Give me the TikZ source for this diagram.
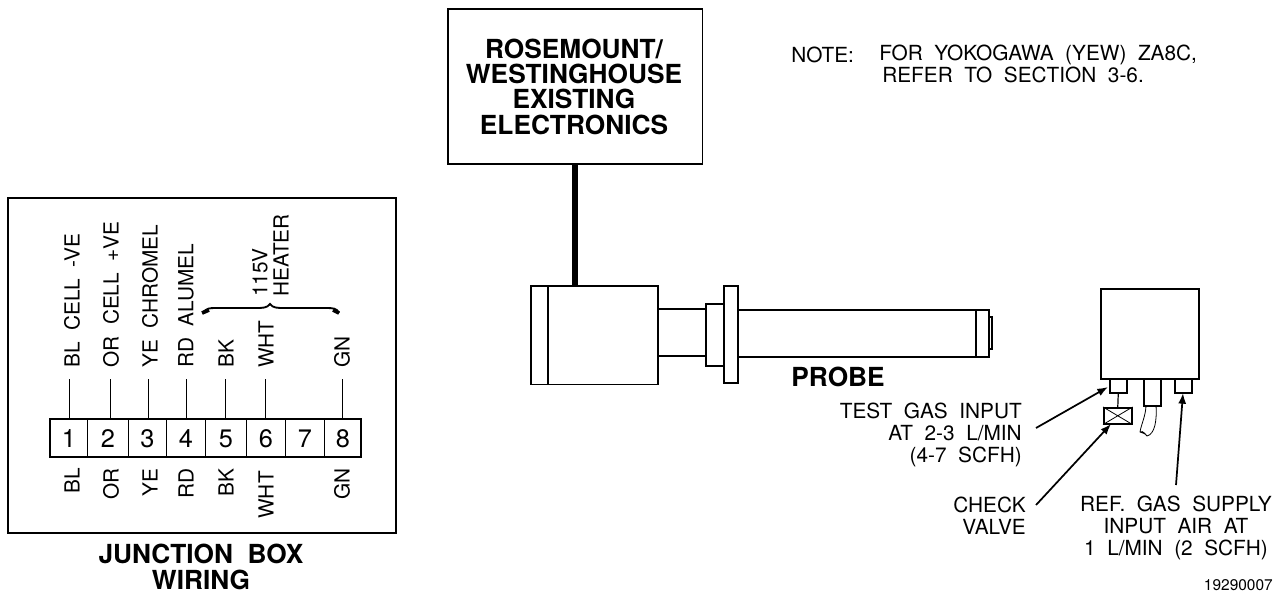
\documentclass[tikz,border=0pt]{standalone}
\usepackage{fontspec}
\setmainfont{TeX Gyre Heros}
\usetikzlibrary{arrows.meta}
\tikzset{
  label/.style={inner sep=0pt,font=\fontsize{15.6}{16.25}\selectfont},
  vlabel/.style={label,rotate=90},
  notelabel/.style={label,anchor=west},
  heading/.style={inner sep=0pt,align=center,font=\fontsize{19.7}{19}\selectfont\bfseries},
  part/.style={draw,line width=1.15pt,inner sep=0pt,anchor=north west},
  lead/.style={line width=0.6pt},
  pointer/.style={line width=1.3pt,-{Latex[length=8pt,width=6pt]}},
}
\begin{document}
\begin{tikzpicture}[x=0.75pt,y=-0.75pt]
\useasboundingbox (0,0) rectangle (1284,594);

% junction box
\draw[line width=1.15pt] (8,198) rectangle (396,533);
\foreach \n/\a/\b/\t in {1/50/87/69,2/87/128/110,3/128/166/148,4/166/205/186,5/205/246/225,6/246/285/265,7/285/324/305,8/324/361/342}{
  \node[draw,line width=0.7pt,inner sep=0pt,anchor=north west,minimum height=28.5pt,minimum width={(\b-\a)*0.75pt},font=\fontsize{19}{19}\selectfont] (t\n) at (\a,419) {\n};
  \coordinate (w\n) at (\t,379);
  \coordinate (p\n) at (\t,419);
}
\draw[line width=1.3pt] (50,419) rectangle (361,457);
\foreach \n in {1,2,3,4,5,6,8}
  \draw[lead] (w\n) -- (p\n);

\node[vlabel,anchor=west] at (72,368) {BL~~CELL~~-VE};
\node[vlabel,anchor=west] at (111,368) {OR~~CELL~~+VE};
\node[vlabel,anchor=west] at (150,368) {YE~~CHROMEL};
\node[vlabel,anchor=west] at (186,368) {RD~~ALUMEL};
\node[vlabel,anchor=west] at (226,368) {BK};
\node[vlabel,anchor=west] at (266,368) {WHT};
\node[vlabel,anchor=west] at (342,368) {GN};

\node[vlabel,anchor=east] at (72,468) {BL};
\node[vlabel,anchor=east] at (111,468) {OR};
\node[vlabel,anchor=east] at (150,468) {YE};
\node[vlabel,anchor=east] at (186,468) {RD};
\node[vlabel,anchor=east] at (226,468) {BK};
\node[vlabel,anchor=east] at (266,471) {WHT};
\node[vlabel,anchor=east] at (342,468) {GN};

\node[vlabel,anchor=west] at (260,297) {115V};
\node[vlabel,anchor=west] at (281,297) {HEATER};
\draw[line width=1.4pt] (203,313) .. controls (206,308) and (210,308) .. (216,308) -- (255,308) .. controls (263,308) and (267,308) .. (270,304) .. controls (273,308) and (277,308) .. (285,308) -- (326,308) .. controls (332,308) and (337,308) .. (339,313);
\draw[line width=2.8pt] (202,313) -- (209,310);
\draw[line width=2.8pt] (339,313) -- (333,310);

\node[heading] at (201,567) {JUNCTION~~BOX\\WIRING};

% electronics
\node[part,minimum width=191pt,minimum height=116.5pt] (existing) at (447,8) {};
\node[heading] at (574,86.5) {ROSEMOUNT/\\WESTINGHOUSE\\EXISTING\\ELECTRONICS};

% probe
\node[part,minimum width=95.5pt,minimum height=74pt] (body) at (530,285) {};
\draw[line width=1pt] (548,285) -- (548,384);
\draw[line width=4pt] (575,164) -- (575,285);
\node[part,minimum width=13.5pt,minimum height=46.5pt] (collar) at (705,303) {};
\node[part,minimum width=10.5pt,minimum height=72.75pt] (flange) at (723,285) {};
\draw[line width=0.8pt] (657,309) -- (705,309) (657,356) -- (705,356);
\draw[line width=1pt] (737,310) -- (989,310) -- (989,357) -- (737,357);
\draw[line width=1pt] (976,310) -- (976,357);
\draw[line width=0.9pt] (989,317) rectangle (992,349);
\node[heading] at (838,377) {PROBE};

% sensor head
\node[part,minimum width=73.5pt,minimum height=67.5pt] (head) at (1100,288) {};
\node[part,minimum width=12.75pt,minimum height=10.5pt] (testport) at (1109,378) {};
\node[part,minimum width=12.75pt,minimum height=20.25pt] (cableport) at (1143,378) {};
\node[part,minimum width=12.75pt,minimum height=10.5pt] (refport) at (1174,378) {};
\node[part,minimum width=21pt,minimum height=12pt] (valve) at (1103,407) {};
\draw[line width=0.6pt] (valve.north west) -- (valve.south east) (valve.north east) -- (valve.south west);
\draw[line width=0.9pt] (testport.south) -- (valve.north);
\draw[line width=0.6pt] (1146,405) .. controls (1146,415) and (1141,425) .. (1140,432) .. controls (1143,430) and (1146,435) .. (1147,436) .. controls (1145,433) and (1142,433) .. (1140,432);
\draw[line width=0.6pt] (1156,405) .. controls (1157,420) and (1155,434) .. (1147,436);

\coordinate (testfrom) at (1036,428);
\coordinate (checkfrom) at (1036,505);
\coordinate (reffrom) at (1176,485);
\coordinate (testto) at (1108,387);
\coordinate (checkto) at (1111,424);
\coordinate (refto) at (1183,393);
\draw[pointer] (testfrom) -- (testto);
\draw[pointer] (checkfrom) -- (checkto);
\draw[pointer] (reffrom) -- (refto);

\node[label,align=right,anchor=east] at (1022,435) {TEST~~GAS~~INPUT\\AT~~2-3~~L/MIN\\(4-7~~SCFH)};
\node[label,align=right,anchor=east] at (1026,515.5) {CHECK\\VALVE};
\node[label,align=center] at (1176,528) {REF.~~GAS~~SUPPLY\\INPUT~~AIR~~AT\\1~~L/MIN~~(2~~SCFH)};

\node[notelabel] at (791,55) {NOTE:};
\node[notelabel] at (879,55) {FOR~~YOKOGAWA~~(YEW)~~ZA8C,};
\node[notelabel] at (882,75) {REFER~~TO~~SECTION~~3-6.};
\node[inner sep=0pt,anchor=east,font=\fontsize{11.6}{11.6}\selectfont] at (1273,585) {19290007};
\end{tikzpicture}
\end{document}
